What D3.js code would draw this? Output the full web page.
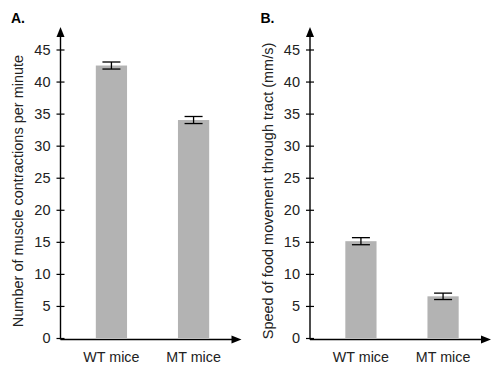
<!DOCTYPE html>
<html>
<head>
<meta charset="utf-8">
<script src="https://cdn.jsdelivr.net/npm/d3@7"></script>
<style>
  body { margin: 0; background: #fff; }
  text { font-family: "Liberation Sans", Arial, sans-serif; }
</style>
</head>
<body>
<div id="chart"></div>
<script>
// data
var categories = ["WT mice", "MT mice"];
var contractions = [42.5, 34.0];
var contractionsErr = [0.55, 0.55];
var speed = [15.1, 6.5];
var speedErr = [0.55, 0.5];
var yTicks = [0, 5, 10, 15, 20, 25, 30, 35, 40, 45];

var width = 500, height = 371;

var svg = d3.select("#chart").append("svg")
    .attr("width", width)
    .attr("height", height);

// one panel = one small bar chart with arrow axes
function panel(x0, label, title, values, errs) {
    var g = svg.append("g");

    var y = d3.scaleLinear()
        .domain([0, 45])
        .range([338, 49.5]);

    var x = d3.scaleBand()
        .domain(categories)
        .range([x0, x0 + 184])
        .paddingInner(0.62)
        .paddingOuter(0.43);

    // bars
    g.selectAll(".bar")
        .data(values)
        .enter().append("rect")
        .attr("x", function(d, i) { return x(categories[i]); })
        .attr("width", x.bandwidth())
        .attr("y", function(d) { return y(d); })
        .attr("height", function(d) { return y(0) - y(d); })
        .attr("fill", "#b3b3b3");

    // error bars
    values.forEach(function(v, i) {
        var cx = x(categories[i]) + x.bandwidth() / 2;
        var e = g.append("g").attr("stroke", "#000").attr("stroke-width", 1.3);
        e.append("line").attr("x1", cx).attr("x2", cx)
            .attr("y1", y(v + errs[i])).attr("y2", y(v - errs[i]));
        e.append("line").attr("x1", cx - 9).attr("x2", cx + 9)
            .attr("y1", y(v + errs[i])).attr("y2", y(v + errs[i]));
        e.append("line").attr("x1", cx - 9).attr("x2", cx + 9)
            .attr("y1", y(v - errs[i])).attr("y2", y(v - errs[i]));
    });

    // y axis
    var yAxis = g.append("g")
        .attr("transform", "translate(" + x0 + ",0)")
        .call(d3.axisLeft(y).tickValues(yTicks).tickSize(4).tickPadding(6));
    yAxis.select(".domain").remove();
    yAxis.selectAll(".tick line").attr("x1", -4).attr("x2", 4).attr("stroke-width", 1.2);
    yAxis.selectAll(".tick text").attr("font-size", 14.5).attr("fill", "#222");

    g.append("line")
        .attr("x1", x0).attr("x2", x0)
        .attr("y1", y(0) + 1.5).attr("y2", 33)
        .attr("stroke", "#000").attr("stroke-width", 1.4);
    g.append("path")
        .attr("d", "M" + x0 + ",27 L" + (x0 - 4) + ",37 L" + (x0 + 4) + ",37 Z")
        .attr("fill", "#000");

    // x axis
    g.append("line")
        .attr("x1", x0).attr("x2", x0 + 176)
        .attr("y1", y(0) + 1.5).attr("y2", y(0) + 1.5)
        .attr("stroke", "#000").attr("stroke-width", 1.4);
    g.append("path")
        .attr("d", "M" + (x0 + 181) + "," + (y(0) + 1.5) + " L" + (x0 + 171) + "," + (y(0) - 2.5) +
             " L" + (x0 + 171) + "," + (y(0) + 5.5) + " Z")
        .attr("fill", "#000");

    g.selectAll(".cat")
        .data(categories)
        .enter().append("text")
        .attr("x", function(d) { return x(d) + x.bandwidth() / 2; })
        .attr("y", 362)
        .attr("text-anchor", "middle")
        .attr("font-size", 14.3)
        .attr("fill", "#222")
        .text(function(d) { return d; });

    // axis title
    g.append("text")
        .attr("transform", "translate(" + (x0 - 37.5) + ",191) rotate(-90)")
        .attr("text-anchor", "middle")
        .attr("font-size", 14.5)
        .attr("fill", "#222")
        .text(title);

    // panel letter
    g.append("text")
        .attr("x", x0 - 49.5)
        .attr("y", 23)
        .attr("font-size", 14)
        .attr("font-weight", "bold")
        .text(label);
}

panel(60.5, "A.", "Number of muscle contractions per minute", contractions, contractionsErr);
panel(310, "B.", "Speed of food movement through tract (mm/s)", speed, speedErr);
</script>
</body>
</html>
